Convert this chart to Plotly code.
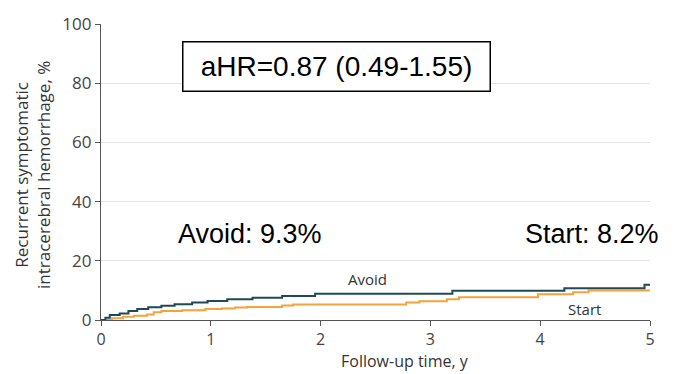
import plotly.graph_objects as go

# Kaplan-Meier style cumulative incidence (%)
avoid_t = [0, 0.04, 0.08, 0.17, 0.25, 0.33, 0.43, 0.55, 0.67, 0.83, 0.97, 1.15, 1.38, 1.65, 1.95, 3.2, 4.22, 4.95, 5.0]
avoid_v = [0, 0.8, 1.7, 2.2, 3.0, 3.7, 4.3, 4.8, 5.3, 5.9, 6.4, 7.0, 7.5, 8.1, 8.9, 9.9, 10.7, 11.9, 11.9]

start_t = [0, 0.1, 0.2, 0.3, 0.42, 0.48, 0.55, 0.74, 0.95, 1.1, 1.22, 1.33, 1.65, 1.75, 2.78, 2.9, 3.15, 3.26, 3.98, 4.3, 4.44, 5.0]
start_v = [0, 0.6, 1.1, 1.4, 1.9, 2.6, 3.0, 3.3, 3.7, 3.9, 4.2, 4.4, 4.9, 5.2, 5.9, 6.3, 7.0, 7.7, 8.7, 9.4, 10.0, 10.2]

x_ticks = [0, 1, 2, 3, 4, 5]
y_ticks = [0, 20, 40, 60, 80, 100]

AVOID_C = "#1d4a55"
START_C = "#f4a23a"
TICK_FONT = "Open Sans, Noto Sans, sans-serif"

fig = go.Figure()
fig.add_trace(go.Scatter(x=start_t, y=start_v, mode="lines", line=dict(color=START_C, width=2, shape="hv"),
                         name="Start", showlegend=False, hoverinfo="skip"))
fig.add_trace(go.Scatter(x=avoid_t, y=avoid_v, mode="lines", line=dict(color=AVOID_C, width=2, shape="hv"),
                         name="Avoid", showlegend=False, hoverinfo="skip"))

W, H = 682, 374
L, R, T, B = 101, 32, 20, 54

fig.update_layout(
    width=W, height=H,
    margin=dict(l=L, r=R, t=T, b=B, pad=0),
    paper_bgcolor="white", plot_bgcolor="white",
    xaxis=dict(range=[0, 5], tickvals=x_ticks, showgrid=False, zeroline=False,
               showline=True, linecolor="#555555", linewidth=1.2,
               ticks="outside", ticklen=5, tickcolor="#555555",
               tickfont=dict(family=TICK_FONT, size=16, color="#444444")),
    yaxis=dict(range=[0, 100], tickvals=y_ticks, showgrid=True, gridcolor="#e3e3e3", gridwidth=1,
               zeroline=False, showline=True, linecolor="#555555", linewidth=1.2,
               ticks="outside", ticklen=5, tickcolor="#555555",
               tickfont=dict(family=TICK_FONT, size=17, color="#444444")),
)

def px_x(p):
    return (p - L) / (W - L - R)

def px_y(p):
    return 1 - (p - T) / (H - T - B)

annotations = [
    dict(x=px_x(405), y=px_y(362), text="Follow-up time, y",
         font=dict(family=TICK_FONT, size=16, color="#333333")),
    dict(x=px_x(33), y=px_y(173), text="Recurrent symptomatic<br>intracerebral hemorrhage, %",
         textangle=-90, font=dict(family=TICK_FONT, size=17, color="#333333")),
    dict(x=px_x(367), y=px_y(278), text="Avoid",
         font=dict(family=TICK_FONT, size=15, color="#333333")),
    dict(x=px_x(584), y=px_y(309), text="Start",
         font=dict(family=TICK_FONT, size=15, color="#333333")),
    dict(x=px_x(250), y=px_y(233), text="Avoid: 9.3%",
         font=dict(family="Liberation Sans, Arial, sans-serif", size=27, color="black")),
    dict(x=px_x(592), y=px_y(233), text="Start: 8.2%",
         font=dict(family="Liberation Sans, Arial, sans-serif", size=27, color="black")),
    dict(x=px_x(336), y=px_y(63), text="aHR=0.87 (0.49-1.55)",
         font=dict(family="Liberation Sans, Arial, sans-serif", size=28, color="black"),
         bordercolor="black", borderwidth=1.5, borderpad=1, bgcolor="white",
         width=304, height=46),
]
for a in annotations:
    a.update(xref="paper", yref="paper", showarrow=False, xanchor="center", yanchor="middle")
fig.update_layout(annotations=annotations)

fig.write_html("out.html")
